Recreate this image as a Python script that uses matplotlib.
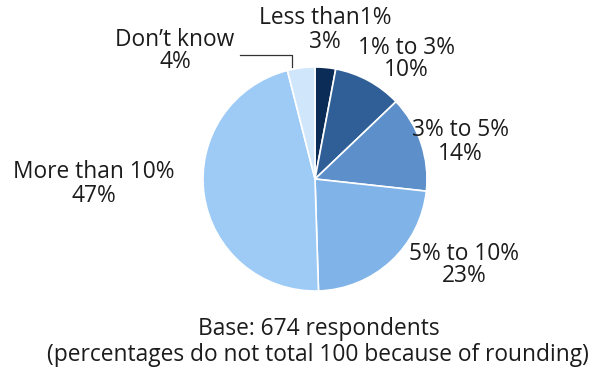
import matplotlib
matplotlib.use("Agg")
import matplotlib.pyplot as plt

categories = ["Less than1%", "1% to 3%", "3% to 5%", "5% to 10%", "More than 10%", "Don\u2019t know"]
shares = [3, 10, 14, 23, 47, 4]
colors = ["#0c2c58", "#2f5f96", "#5d90ca", "#80b3e7", "#9ecbf6", "#d0e6fb"]

# label anchor points in pixel space (x from left, y from top)
label_pos = [(325, 30), (406, 59), (460, 142), (464, 265), (94, 184), (175, 51)]

W, H = 599, 378
fig = plt.figure(figsize=(W / 100, H / 100), dpi=100)
ax = fig.add_axes([0, 0, 1, 1])

ax.pie(shares, colors=colors, startangle=90, counterclock=False,
       center=(315, H - 179), radius=112, frame=True,
       wedgeprops=dict(edgecolor="white", linewidth=1.2))
ax.set_xlim(0, W)
ax.set_ylim(0, H)
ax.set_aspect("equal")
ax.axis("off")

font = dict(family="Open Sans", fontsize=16.4, color="#1c1c1c",
            ha="center", va="center")
line_gap = 23  # pixels between the category line and the percentage line
for cat, val, (x, y) in zip(categories, shares, label_pos):
    ax.text(x, H - (y - line_gap / 2), cat, **font)
    ax.text(x, H - (y + line_gap / 2), f"{val}%", **font)

# leader line for the smallest light slice
ax.plot([240, 292, 292], [H - 55, H - 55, H - 67], color="#333333", lw=0.9)

ax.text(319, H - 329, "Base: 674 respondents", **font)
ax.text(318, H - 355, "(percentages do not total 100 because of rounding)", **font)

fig.savefig("out.png", dpi=100)
